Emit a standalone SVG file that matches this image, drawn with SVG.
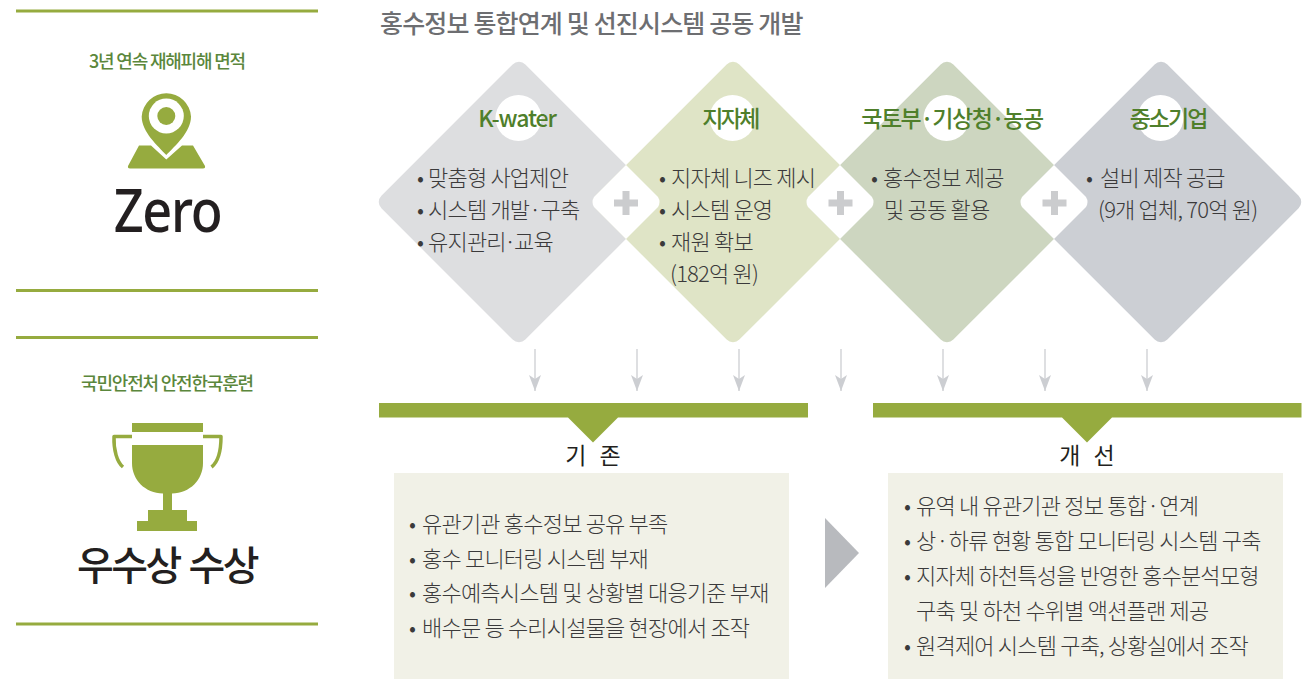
<svg xmlns="http://www.w3.org/2000/svg" width="1305" height="680" viewBox="0 0 1305 680">
<style>
text{font-family:"Noto Sans CJK KR","Noto Sans",sans-serif}
.rule{fill:none;stroke:#96ab3f;stroke-width:3}
.g{fill:#96ab3f}
.title{font-size:25px;font-weight:500;fill:#6d6e71;letter-spacing:-.85px}
.sub{font-size:18px;font-weight:500;fill:#5b873c;letter-spacing:-1.2px;text-anchor:middle}
.big{fill:#231f20;text-anchor:middle}
.head{font-size:23px;font-weight:500;fill:#4f7f2b;letter-spacing:-2px;text-anchor:middle}
.body{font-size:22px;font-weight:300;fill:#3b3a3b;letter-spacing:-.8px}
.dot{word-spacing:-3px}
.cap{font-size:23px;font-weight:400;fill:#231f20;text-anchor:middle}
.plus{fill:#cbccce}
.arrow{fill:none;stroke:#ccced2;stroke-width:1.3}
</style>
<defs>
<marker id="ah" markerUnits="userSpaceOnUse" markerWidth="12" markerHeight="16" refX="6" refY="16" orient="0" viewBox="0 0 12 16"><path d="M0 0 6 4 12 0 6 16Z" fill="#ccced2"/></marker>
<rect id="dia" x="-101.8" y="-101.8" width="203.6" height="203.6" rx="9"/>
<path id="gap" d="M0-37 32-5Q35-0 32 5L0 37-32 5Q-35 0-32-5Z" fill="#fff"/>
<path id="pl" d="M-3.5-12H3.5V-3.5H12V3.5H3.5V12H-3.5V3.5H-12V-3.5H-3.5Z" class="plus"/>
</defs>
<rect width="1305" height="680" fill="#fff"/>
<text class="title" x="380" y="33">홍수정보 통합연계 및 선진시스템 공동 개발</text>

<g id="zero-panel">
<path class="rule" d="M16 11H318M16 290.500H318"/>
<text class="sub" x="167" y="68">3년 연속 재해피해 면적</text>
<path class="g" d="M139 145.500H151L166.300 159.500 182 145.500H193L205 166Q205.500 168.500 203 168.500H130Q127.500 168.500 128 166Z"/>
<path class="g" d="M166.300 155C158 146 141.700 132 141.700 116.500A24.700 24.700 0 0 1 191 116.500C191 132 175 146 166.300 155Z"/>
<circle cx="166.300" cy="116" r="17.500" fill="#fff"/>
<circle class="g" cx="166.300" cy="116" r="9"/>
<text class="big" transform="translate(167.500 232) scale(.87 1)" font-size="60" style="font-family:'Noto Sans',sans-serif;font-weight:500;letter-spacing:-1.500px">Zero</text>
</g>

<g id="award-panel">
<path class="rule" d="M16 337.500H318M16 624H318"/>
<text class="sub" x="167" y="390">국민안전처 안전한국훈련</text>
<path class="g" d="M132 423H203V432H132ZM132 445H203V463C203 480 190 493 172 493.500V510H187V521H197V531H137V521H148V510H163V493.500C145 493 132 480 132 463Z"/>
<path d="M132 436.500H114C113.500 450 117 462 123 467M203 436.500H221C221 450 218 462 211.500 467" fill="none" stroke="#96ab3f" stroke-width="3.500" stroke-linejoin="round"/>
<text class="big" x="167" y="580" font-size="40" font-weight="500" letter-spacing="-2.500" word-spacing="2">우수상 수상</text>
</g>

<g id="node-kwater">
<use href="#dia" transform="translate(519 202) rotate(45)" fill="#dddee0"/>
<circle cx="518.500" cy="118" r="23" fill="#fff"/>
<text class="head" x="517" y="127" style="letter-spacing:-1.1px">K-water</text>
<text class="body" y="186"><tspan x="417">• </tspan><tspan x="428">맞춤형 사업제안</tspan></text>
<text class="body" y="218"><tspan x="417">• </tspan><tspan x="428">시스템 개발<tspan style="word-spacing:-4px"> · </tspan>구축</tspan></text>
<text class="body" y="250"><tspan x="417">• </tspan><tspan x="428">유지관리<tspan style="word-spacing:-5.500px"> · </tspan>교육</tspan></text>
</g>
<g id="node-local">
<use href="#dia" transform="translate(733 202) rotate(45)" fill="#dfe4c6"/>
<circle cx="732.500" cy="118" r="23" fill="#fff"/>
<text class="head" x="730" y="127" style="letter-spacing:-2.6px">지자체</text>
<text class="body" y="186"><tspan x="659">• </tspan><tspan x="671">지자체 니즈 제시</tspan></text>
<text class="body" y="218"><tspan x="659">• </tspan><tspan x="671">시스템 운영</tspan></text>
<text class="body" y="250"><tspan x="659">• </tspan><tspan x="671">재원 확보</tspan></text>
<text class="body" y="282" x="670">(182억 원)</text>
</g>
<g id="node-gov">
<use href="#dia" transform="translate(947 202) rotate(45)" fill="#cdd6c0"/>
<circle cx="946.500" cy="118" r="23" fill="#fff"/>
<text class="head" x="952" y="127" style="letter-spacing:-1.5px;word-spacing:-3.5px">국토부 · 기상청 · 농공</text>
<text class="body" y="186"><tspan x="871">• </tspan><tspan x="883">홍수정보 제공</tspan></text>
<text class="body" y="218" x="884">및 공동 활용</text>
</g>
<g id="node-sme">
<use href="#dia" transform="translate(1161 202) rotate(45)" fill="#cccfd4"/>
<circle cx="1160.500" cy="118" r="23" fill="#fff"/>
<text class="head" x="1168" y="127">중소기업</text>
<text class="body" y="186"><tspan x="1086">• </tspan><tspan x="1100">설비 제작 공급</tspan></text>
<text class="body" y="218" x="1098">(9개 업체, 70억 원)</text>
</g>
<g id="plus-1"><use href="#gap" x="626" y="202"/><use href="#pl" x="626" y="203"/></g>
<g id="plus-2"><use href="#gap" x="840" y="202"/><use href="#pl" x="840.500" y="203"/></g>
<g id="plus-3"><use href="#gap" x="1054" y="202"/><use href="#pl" x="1054.500" y="203"/></g>

<g id="connectors">
<path class="arrow" d="M535 349V391" marker-end="url(#ah)"/>
<path class="arrow" d="M637 349V391" marker-end="url(#ah)"/>
<path class="arrow" d="M739 349V391" marker-end="url(#ah)"/>
<path class="arrow" d="M841 349V391" marker-end="url(#ah)"/>
<path class="arrow" d="M943 349V391" marker-end="url(#ah)"/>
<path class="arrow" d="M1045 349V391" marker-end="url(#ah)"/>
<path class="arrow" d="M1147 349V391" marker-end="url(#ah)"/>
</g>

<g id="before">
<path class="g" d="M379 403H808V417.500H618L593 442.500 568 417.500H379Z"/>
<text class="cap" x="593" y="464">기<tspan dx="5"> </tspan><tspan dx="3">존</tspan></text>
<rect x="394" y="473" width="395" height="206" fill="#f1f1e7"/>
<text class="body" y="532"><tspan x="409">• </tspan><tspan x="422">유관기관 홍수정보 공유 부족</tspan></text>
<text class="body" y="567"><tspan x="409">• </tspan><tspan x="422">홍수 모니터링 시스템 부재</tspan></text>
<text class="body" y="601"><tspan x="409">• </tspan><tspan x="422">홍수예측시스템 및 상황별 대응기준 부재</tspan></text>
<text class="body" y="636"><tspan x="409">• </tspan><tspan x="422">배수문 등 수리시설물을 현장에서 조작</tspan></text>
</g>
<path id="chevron" d="M825 518 859 553 825 588Z" fill="#b8babe"/>
<g id="after">
<path class="g" d="M873 403H1301.500V417.500H1112L1087 442.500 1062 417.500H873Z"/>
<text class="cap" x="1087" y="464">개<tspan dx="5"> </tspan><tspan dx="3">선</tspan></text>
<rect x="888" y="473" width="395" height="206" fill="#f1f1e7"/>
<text class="body" y="514"><tspan x="904">• </tspan><tspan x="916">유역 내 유관기관 정보 통합<tspan class="dot"> · </tspan>연계</tspan></text>
<text class="body" y="549"><tspan x="904">• </tspan><tspan x="916">상<tspan class="dot"> · </tspan>하류 현황 통합 모니터링 시스템 구축</tspan></text>
<text class="body" y="584"><tspan x="904">• </tspan><tspan x="916">지자체 하천특성을 반영한 홍수분석모형</tspan></text>
<text class="body" y="619" x="916">구축 및 하천 수위별 액션플랜 제공</text>
<text class="body" y="654"><tspan x="904">• </tspan><tspan x="916">원격제어 시스템 구축, 상황실에서 조작</tspan></text>
</g>
</svg>
